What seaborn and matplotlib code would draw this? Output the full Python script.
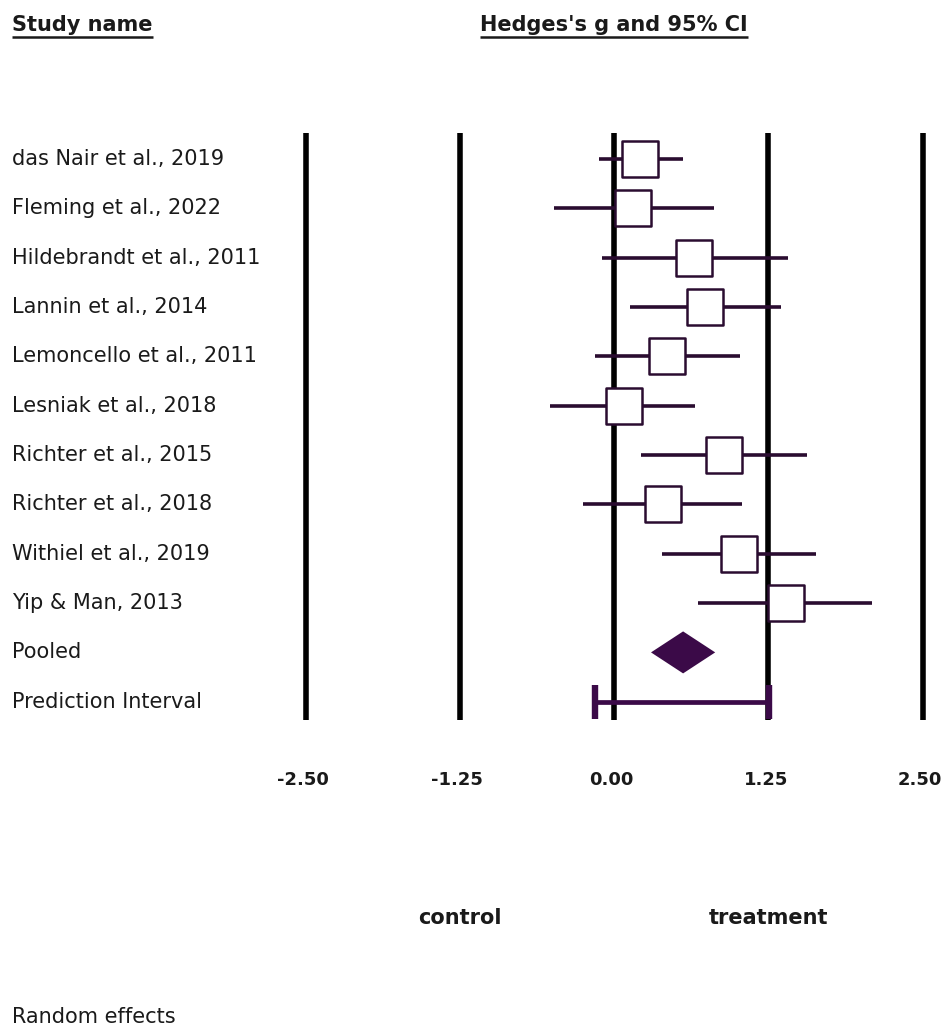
import matplotlib
matplotlib.use("Agg")
import matplotlib.pyplot as plt
import matplotlib.transforms as mtransforms
import numpy as np
import pandas as pd
import seaborn as sns

# ---------------- data ----------------
studies = ["das Nair et al., 2019", "Fleming et al., 2022", "Hildebrandt et al., 2011",
           "Lannin et al., 2014", "Lemoncello et al., 2011", "Lesniak et al., 2018",
           "Richter et al., 2015", "Richter et al., 2018", "Withiel et al., 2019",
           "Yip & Man, 2013"]
g_values = [0.21, 0.15, 0.65, 0.74, 0.43, 0.08, 0.89, 0.40, 1.01, 1.39]
ci_lower = [-0.12, -0.49, -0.10, 0.13, -0.15, -0.52, 0.22, -0.25, 0.39, 0.68]
ci_upper = [0.56, 0.81, 1.41, 1.35, 1.02, 0.66, 1.56, 1.04, 1.64, 2.09]

pooled_label = "Pooled"
pooled_g = 0.56
pooled_lower = 0.30
pooled_upper = 0.82

pi_label = "Prediction Interval"
pi_lower = -0.15
pi_upper = 1.26

tick_values = [-2.50, -1.25, 0.00, 1.25, 2.50]
tick_labels = ["-2.50", "-1.25", "0.00", "1.25", "2.50"]
left_label = "control"
right_label = "treatment"
header_left = "Study name"
header_right = "Hedges's g and 95% CI"
footer = "Random effects"

# ---------------- styling ----------------
sns.set_style("white")
plt.rcParams["font.family"] = ["DejaVu Sans"]

W, H = 950, 1034
fig = plt.figure(figsize=(W / 100, H / 100), dpi=100)
ax = fig.add_axes([0, 0, 1, 1])

px_per_unit = 123.4
x0_px = 614.0
row0_px = 159.0
row_step = 49.34

ax.set_xlim(-x0_px / px_per_unit, (W - x0_px) / px_per_unit)
ax.set_ylim((H - row0_px) / row_step, -row0_px / row_step)
ax.axis("off")

def px_row(y):
    return (y - row0_px) / row_step

line_col = "#2a0c30"
purple = "#3b0a48"

# vertical reference lines
ax.vlines(tick_values, px_row(133), px_row(720), color="black", lw=4.0, zorder=1)

# study CI lines
rows = np.arange(len(studies))
ax.hlines(rows, ci_lower, ci_upper, color=line_col, lw=2.6, zorder=2)

# boxes
df = pd.DataFrame({"study": studies, "g": g_values, "row": rows})
sns.scatterplot(data=df, x="g", y="row", marker="s", s=680, color="white",
                edgecolor=line_col, linewidth=1.8, zorder=3, ax=ax, legend=False)
ax.set_xlabel("")
ax.set_ylabel("")
ax.axis("off")

# pooled diamond
r_p = len(studies)
half_h = 21 / row_step
ax.fill([pooled_lower, pooled_g, pooled_upper, pooled_g],
        [r_p, r_p - half_h, r_p, r_p + half_h], color=purple, zorder=3, lw=0)

# prediction interval
r_pi = len(studies) + 1
ax.errorbar([pooled_g], [r_pi], xerr=[[pooled_g - pi_lower], [pi_upper - pooled_g]],
            fmt="none", ecolor=purple, elinewidth=3.4, capsize=12.2, capthick=4.6, zorder=3)

# labels on left
lab_tr = mtransforms.blended_transform_factory(ax.transAxes, ax.transData)
all_labels = studies + [pooled_label, pi_label]
for i, lab in enumerate(all_labels):
    ax.text(12 / W, i, lab, transform=lab_tr, ha="left", va="center",
            fontsize=15, color="#1a1a1a")

# tick labels
for tv, tl in zip(tick_values, tick_labels):
    ax.text(tv - 0.02, px_row(780), tl, ha="center", va="center", fontsize=13,
            fontweight="bold", color="#1a1a1a")

ax.text(tick_values[1], px_row(918), left_label, ha="center", va="center",
        fontsize=15, fontweight="bold", color="#1a1a1a")
ax.text(tick_values[3], px_row(918), right_label, ha="center", va="center",
        fontsize=15, fontweight="bold", color="#1a1a1a")

ax.text(12 / W, px_row(1017), footer, transform=lab_tr, ha="left", va="center",
        fontsize=15, color="#1a1a1a")

# headers with underline
t1 = ax.text(12 / W, px_row(31), header_left, transform=lab_tr, ha="left",
             va="baseline", fontsize=15, fontweight="bold", color="#1a1a1a")
t2 = ax.text(0.0, px_row(31), header_right, ha="center", va="baseline",
             fontsize=15, fontweight="bold", color="#1a1a1a")

fig.canvas.draw()
renderer = fig.canvas.get_renderer()
inv = ax.transData.inverted()
for t in (t1, t2):
    bb = t.get_window_extent(renderer)
    (xa, _), (xb, _) = inv.transform([[bb.x0, 0], [bb.x1, 0]])
    ax.plot([xa, xb], [px_row(37.5), px_row(37.5)], color="#1a1a1a", lw=1.8,
            solid_capstyle="butt")

fig.savefig("out.png", dpi=100, facecolor="white")
